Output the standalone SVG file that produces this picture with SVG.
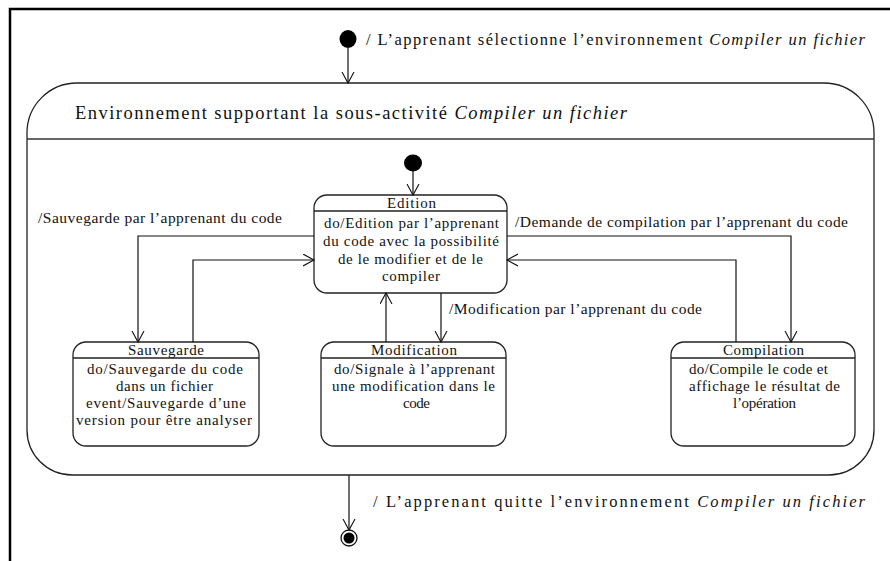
<svg xmlns="http://www.w3.org/2000/svg" width="890" height="561" viewBox="0 0 890 561" font-family="'Liberation Serif', 'DejaVu Serif', serif">
<defs>
<marker id="arr" markerUnits="userSpaceOnUse" markerWidth="14" markerHeight="14" refX="11" refY="6.5" orient="auto">
<path d="M0,0.5 L11,6.5 L0,12.5" fill="none" stroke="#111" stroke-width="1.1"/>
</marker>
<style>
text{font-family:'Liberation Serif','DejaVu Serif',serif;fill:#111;}
.lb{font-size:15.5px;}
.big{font-size:16.5px;}
.title{font-size:18.5px;}
.st{font-size:15px;}
.box{fill:#fff;stroke:#222;stroke-width:1.3;}
.div{stroke:#222;stroke-width:1.3;}
.c{fill:none;stroke:#111;stroke-width:1.2;}
</style>
</defs>
<rect width="890" height="561" fill="#fff"/>
<path d="M10,561 L10,9 L890,9" fill="none" stroke="#000" stroke-width="2.5"/>

<g id="start">
<ellipse cx="348" cy="39" rx="8.5" ry="9" fill="#000"/>
</g>
<text class="big" x="366" y="45" textLength="499" lengthAdjust="spacing">/ L’apprenant sélectionne  l’environnement <tspan font-style="italic">Compiler un fichier</tspan></text>

<g id="environnement">
<path class="box" d="M27,133 A50,50 0 0 1 77,83 L824,83 A50,50 0 0 1 874,133 L874,430 A45,45 0 0 1 829,475 L72,475 A45,45 0 0 1 27,430 Z" stroke="#333" stroke-width="1.4"/>
<line x1="27" y1="139" x2="874" y2="139" stroke="#333" stroke-width="1.4"/>
<text class="title" x="75" y="119" textLength="552" lengthAdjust="spacing">Environnement supportant la sous-activité <tspan font-style="italic">Compiler un fichier</tspan></text>
</g>

<g id="inner-start">
<ellipse cx="413" cy="163" rx="9" ry="8.5" fill="#000"/>
</g>

<g id="edition">
<rect class="box" x="314" y="195" width="193" height="98" rx="13"/>
<line class="div" x1="314" y1="211" x2="507" y2="211"/>
<text class="st" x="411.5" y="208" text-anchor="middle" textLength="49" lengthAdjust="spacing">Edition</text>
<text class="st" x="411.5" y="228" text-anchor="middle" textLength="175" lengthAdjust="spacing">do/Edition par l’apprenant</text>
<text class="st" x="411" y="246" text-anchor="middle" textLength="176" lengthAdjust="spacing">du code avec la possibilité</text>
<text class="st" x="410.5" y="264" text-anchor="middle" textLength="145" lengthAdjust="spacing">de le modifier et de le</text>
<text class="st" x="411" y="281" text-anchor="middle" textLength="58" lengthAdjust="spacing">compiler</text>
</g>

<g id="sauvegarde">
<rect class="box" x="73" y="342" width="186" height="104" rx="13"/>
<line class="div" x1="73" y1="358" x2="259" y2="358"/>
<text class="st" x="166" y="355" text-anchor="middle" textLength="76" lengthAdjust="spacing">Sauvegarde</text>
<text class="st" x="165" y="374" text-anchor="middle" textLength="156" lengthAdjust="spacing">do/Sauvegarde du code</text>
<text class="st" x="164.5" y="391" text-anchor="middle" textLength="97" lengthAdjust="spacing">dans un fichier</text>
<text class="st" x="166" y="408" text-anchor="middle" textLength="160" lengthAdjust="spacing">event/Sauvegarde d’une</text>
<text class="st" x="164" y="425" text-anchor="middle" textLength="176" lengthAdjust="spacing">version pour être analyser</text>
</g>

<g id="modification">
<rect class="box" x="321" y="342" width="185" height="104" rx="13"/>
<line class="div" x1="321" y1="358" x2="506" y2="358"/>
<text class="st" x="414" y="355" text-anchor="middle" textLength="86" lengthAdjust="spacing">Modification</text>
<text class="st" x="414.5" y="374" text-anchor="middle" textLength="161" lengthAdjust="spacing">do/Signale à l’apprenant</text>
<text class="st" x="413.5" y="391" text-anchor="middle" textLength="163" lengthAdjust="spacing">une modification dans le</text>
<text class="st" x="416.5" y="408" text-anchor="middle" textLength="27" lengthAdjust="spacing">code</text>
</g>

<g id="compilation">
<rect class="box" x="671" y="342" width="184" height="104" rx="13"/>
<line class="div" x1="671" y1="358" x2="855" y2="358"/>
<text class="st" x="763.5" y="355" text-anchor="middle" textLength="81" lengthAdjust="spacing">Compilation</text>
<text class="st" x="758.5" y="374" text-anchor="middle" textLength="139" lengthAdjust="spacing">do/Compile le code et</text>
<text class="st" x="764.5" y="391" text-anchor="middle" textLength="151" lengthAdjust="spacing">affichage le résultat de</text>
<text class="st" x="764.5" y="408" text-anchor="middle" textLength="63" lengthAdjust="spacing">l’opération</text>
</g>

<g id="end">
<circle cx="349" cy="538" r="8" fill="#fff" stroke="#111" stroke-width="1.3"/>
<circle cx="349" cy="538" r="5.5" fill="#000"/>
</g>

<g id="connectors">
<path class="c" d="M348,48 L348,83" marker-end="url(#arr)"/>
<path class="c" d="M413,171 L413,195" marker-end="url(#arr)"/>
<path class="c" d="M314,236 L138,236 L138,342" marker-end="url(#arr)"/>
<path class="c" d="M193,342 L193,260 L314,260" marker-end="url(#arr)"/>
<path class="c" d="M507,236 L791,236 L791,342" marker-end="url(#arr)"/>
<path class="c" d="M736,342 L736,260 L507,260" marker-end="url(#arr)"/>
<path class="c" d="M386,342 L386,293" marker-end="url(#arr)"/>
<path class="c" d="M441,293 L441,342" marker-end="url(#arr)"/>
<path class="c" d="M349,475 L349,530" marker-end="url(#arr)"/>
</g>

<text class="lb" x="38" y="223" textLength="244" lengthAdjust="spacing">/Sauvegarde par l’apprenant du code</text>
<text class="lb" x="515" y="227" textLength="333" lengthAdjust="spacing">/Demande de compilation par l’apprenant du code</text>
<text class="lb" x="449" y="314" textLength="253" lengthAdjust="spacing">/Modification par l’apprenant du code</text>
<text class="big" x="373" y="507" textLength="492" lengthAdjust="spacing">/ L’apprenant quitte l’environnement <tspan font-style="italic">Compiler un fichier</tspan></text>
</svg>
